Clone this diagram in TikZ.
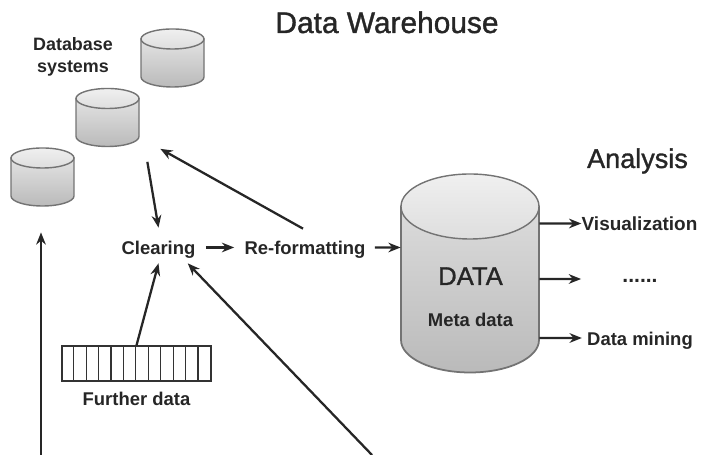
\documentclass[tikz,border=0pt]{standalone}
\usepackage{fontspec}
\setmainfont{Liberation Sans}
\newfontfamily\headfont[FakeBold=1.2]{Liberation Sans}
\usepackage{tikz}
\usetikzlibrary{calc,arrows.meta}

\begin{document}
\begin{tikzpicture}
            \tikzstyle{flow}=[-{Stealth[length=7pt,width=5.5pt]},line width=1.3pt,black!85]
            \tikzstyle{drumside}=[line width=0.8pt,draw=black!55,top color=black!11,bottom color=black!27]
            \tikzstyle{drumlid}=[line width=0.8pt,draw=black!55,top color=black!6,bottom color=black!13]
            \tikzstyle{word}=[anchor=base,inner sep=0pt,text height=0.3cm,text depth=0pt,text=black!85,font=\fontsize{10.5}{12}\selectfont\bfseries]
            \tikzstyle{heading}=[anchor=base,inner sep=0pt,text=black!85,font=\fontsize{17}{19}\headfont]
            \useasboundingbox (0,0) rectangle (14.14,9.1);
            \foreach \name/\cx/\cy in {dba/3.45/8.32,dbb/2.15/7.13,dbc/0.85/5.94} {
                \begin{scope}[shift={(\cx,\cy)}]
                    \draw[drumside] (-0.63,0) -- (-0.63,-0.76) arc (180:360:0.63 and 0.2) -- (0.63,0) -- cycle;
                    \draw[drumlid] (0,0) ellipse (0.63 and 0.2);
                    \node[inner sep=0pt,minimum width=1.26cm,minimum height=1.16cm] (\name) at (0,-0.38) {};
                \end{scope}
            }
            \draw[line width=1pt,draw=black!55,top color=black!14,bottom color=black!27] (8.02,4.97) -- (8.02,2.3) arc (180:360:1.38 and 0.65) -- (10.78,4.97) -- cycle;
            \draw[drumlid] (9.4,4.97) ellipse (1.38 and 0.65);
            \node[inner sep=0pt,minimum width=2.76cm,minimum height=3.96cm] (data) at (9.4,3.64) {};
            \node[heading] (title) at (7.74,8.44) {Data Warehouse};
            \node[heading,font=\fontsize{15.4}{19}\headfont] (analysis) at (12.75,5.74) {Analysis};
            \node[anchor=center,inner sep=0pt,align=center,text=black!85,font=\fontsize{10.2}{12.5}\selectfont\bfseries] (systems) at (1.46,7.96) {Database\\systems};
            \node[word] (clearing) at (3.17,4.0) {Clearing};
            \node[word] (reformat) at (6.1,4.0) {Re-formatting};
            \node[word] (further) at (2.73,0.98) {Further data};
            \node[heading,font=\fontsize{14.6}{17}\headfont] (dataword) at (9.41,3.4) {DATA};
            \node[word] (meta) at (9.41,2.56) {Meta data};
            \node[word,font=\fontsize{10.8}{12}\selectfont\bfseries] (visual) at (12.79,4.48) {Visualization};
            \node[word,text height=0.16cm,font=\fontsize{12}{12}\selectfont\bfseries] (dots) at (12.8,3.44) {......};
            \node[word] (mining) at (12.8,2.19) {Data mining};
            \node[draw=black!80,line width=0.7pt,inner sep=0pt,minimum width=2.98cm,minimum height=0.7cm] (grid) at (2.73,1.83) {};
            \foreach \i in {1,...,11} {
                \draw[black!80,line width=0.7pt] ($(grid.north west)+(\i*0.2483,0)$) -- ($(grid.south west)+(\i*0.2483,0)$);
            }
            \coordinate (leftfoot) at (0.82,0);
            \coordinate (longfoot) at (7.44,0);
            \draw[flow] ([shift={(0.16,-0.3)}]dbb.south east) -- ([yshift=0.24cm]clearing.north);
            \draw[flow] ([shift={(-0.04,0.22)}]reformat.north) -- ([shift={(0.42,-0.04)}]dbb.south east);
            \draw[flow,shorten <=0.2cm,shorten >=0.2cm] (clearing.east) -- (reformat.west);
            \draw[flow,shorten <=0.18cm] (reformat.east) -- ([yshift=0.51cm]data.west);
            \draw[flow] (grid.north) -- ([yshift=-0.16cm]clearing.south);
            \draw[flow] (longfoot) -- ([shift={(-0.16,-0.16)}]clearing.south east);
            \draw[flow] (leftfoot) -- ([shift={(-0.03,-0.52)}]dbc.south);
            \draw[flow] ([yshift=0.99cm]data.east) -- (visual.west);
            \draw[flow,shorten >=0.82cm] ([yshift=-0.12cm]data.east) -- (dots.west);
            \draw[flow,shorten >=0.1cm] ([yshift=-1.3cm]data.east) -- (mining.west);
        \end{tikzpicture}
\end{document}
